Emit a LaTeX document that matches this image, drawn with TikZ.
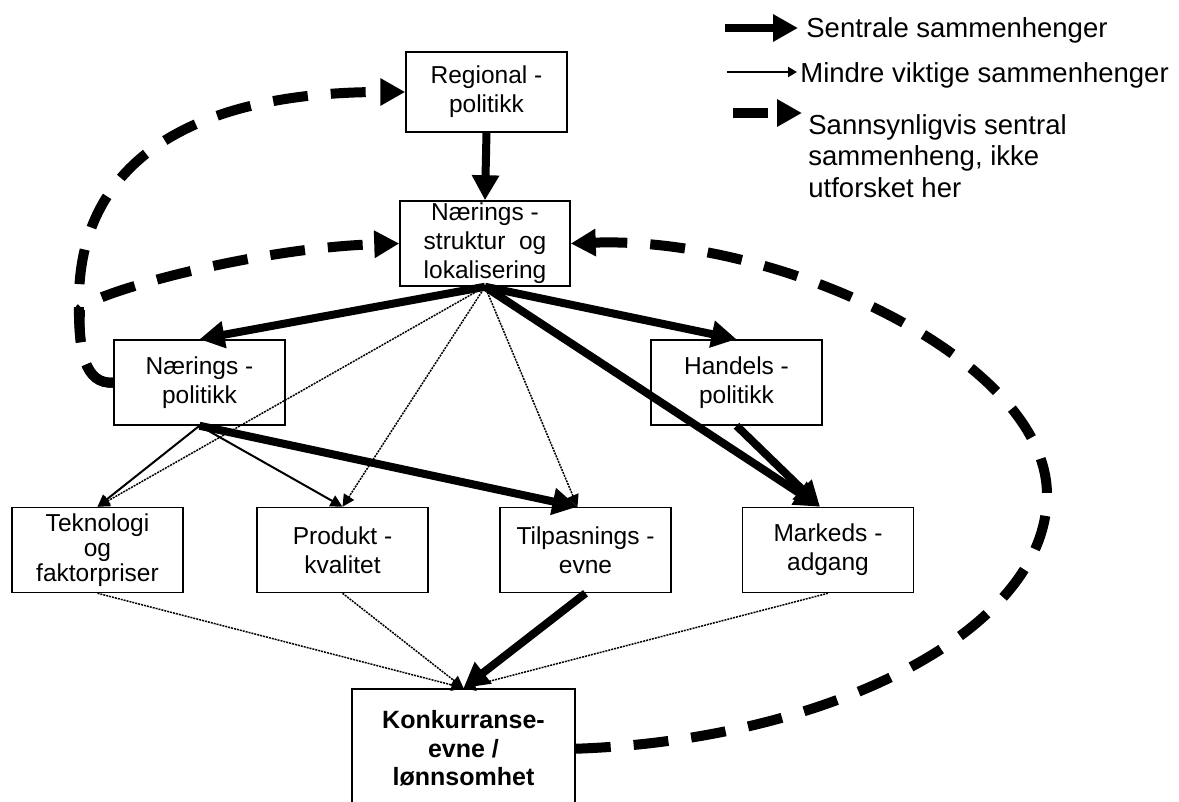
\documentclass[tikz,border=0pt]{standalone}
\usepackage{fontspec}
\setmainfont{Liberation Sans}
\usetikzlibrary{arrows.meta}
\tikzset{>={Triangle[width=6pt,length=6pt]}}
\tikzset{
  box/.style={draw, fill=white, line width=0.75pt, inner sep=0pt, align=center,
    minimum width=85.5pt, minimum height=42.5pt,
    font=\fontsize{12.25}{14.5}\selectfont},
  central/.style={line width=4pt, -{Triangle[width=13pt,length=12.5pt]}},
  minor/.style={line width=1pt, ->},
  faint/.style={line width=0.75pt, dash pattern=on 1pt off 0.5pt, ->},
  probable/.style={line width=5pt, dash pattern=on 17.5pt off 11.5pt,
    -{Triangle[width=13pt,length=12.5pt]}},
  legend/.style={inner sep=0pt, align=left, font=\fontsize{13.75}{15.75}\selectfont},
}

\begin{document}
\begin{tikzpicture}[x=0.5pt, y=-0.5pt]
  \useasboundingbox (0,0) rectangle (1179,802);

  \node[box, minimum width=80.5pt, minimum height=40pt] (reg) at (486.5,92) {Regional -\\politikk};
  \node[box, minimum width=85pt] (struk) at (485,243.5) {Nærings -\\struktur \ og\\lokalisering};
  \node[box] (npol) at (199.5,382.5) {Nærings -\\politikk};
  \node[box] (hpol) at (736.5,382.5) {Handels -\\politikk};

  \node[box, font=\fontsize{12.25}{12.5}\selectfont] (tek) at (97.5,550) {Teknologi\\og\\faktorpriser};
  \node[box] (prod) at (342.5,550) {Produkt -\\kvalitet};
  \node[box] (tilp) at (585.5,550) {Tilpasnings -\\evne};
  \node[box] (mark) at (828,550) {Markeds -\\adgang};

  \node[box, anchor=north, minimum width=111.5pt, minimum height=60pt,
    font=\fontsize{12.5}{14.25}\selectfont\bfseries] (konk) at (463.5,688) {Konkurranse-\\evne /\\lønnsomhet};

  % legend
  \coordinate (k1a) at (725,28);
  \coordinate (k1b) at (798,28);
  \draw[central] (k1a) -- (k1b);
  \node[legend, anchor=base west] (k1) at (806,38) {Sentrale sammenhenger};

  \coordinate (k2a) at (727,72);
  \coordinate (k2b) at (797,72);
  \draw[minor, -{Triangle[width=5pt,length=4.5pt]}] (k2a) -- (k2b);
  \node[legend, anchor=base west] (k2) at (800,83) {Mindre viktige sammenhenger};

  \coordinate (k3a) at (733,113);
  \coordinate (k3b) at (802,113);
  \draw[probable] (k3a) -- (k3b);
  \node[legend, anchor=north west] (k3) at (808,114) {Sannsynligvis sentral\\sammenheng, ikke\\utforsket her};

  % main links
  \draw[central] (reg.south) -- (struk.north);
  \draw[central] (struk.south) -- (npol.north);
  \draw[central] (struk.south) -- (hpol.north);
  \draw[central] (struk.south) -- ([xshift=-4pt]mark.north);
  \draw[central] (hpol.south) -- ([xshift=-4pt]mark.north);
  \draw[central] (npol.south) -- ([xshift=-4pt]tilp.north);
  \draw[central] (tilp.south) -- (konk.north);

  \draw[faint] (struk.south) -- (tek.north);
  \draw[faint] (struk.south) -- (prod.north);
  \draw[faint] (struk.south) -- ([xshift=-4pt]tilp.north);
  \draw[minor] (npol.south) -- (tek.north);
  \draw[minor] (npol.south) -- (prod.north);

  \draw[faint] (tek.south) -- (konk.north);
  \draw[faint] (prod.south) -- (konk.north);
  \draw[faint] (mark.south) -- (konk.north);

  % feedback loops
  \draw[probable] (npol.west) .. controls (85,385) and (78,350) .. (79,300)
    .. controls (79,170) and (180,92) .. (reg.west);
  \draw[probable] (npol.west) .. controls (85,385) and (78,350) .. (80,310)
    .. controls (82,296) and (250,248) .. (struk.west);
  \draw[probable] (konk.east) .. controls (830,740) and (1047,630) .. (1047,495)
    .. controls (1047,360) and (780,236) .. (struk.east);

\end{tikzpicture}
\end{document}
